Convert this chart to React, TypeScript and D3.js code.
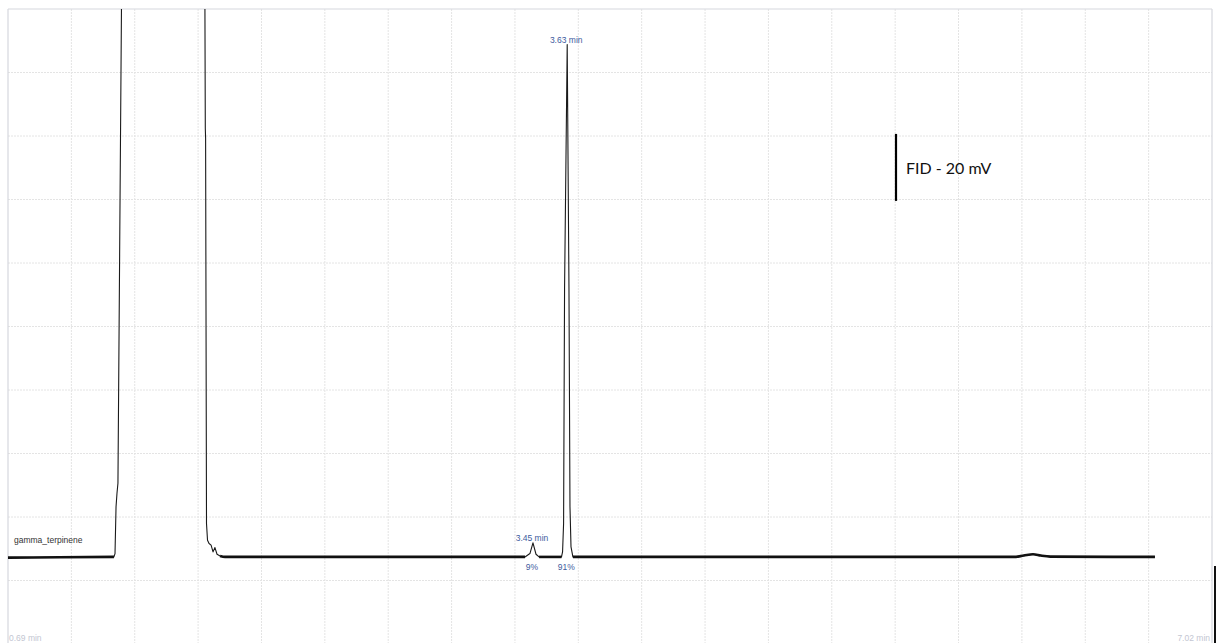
import React from "react";
import * as d3 from "d3";

// Chromatogram trace: retention time (min) and detector signal (mV above baseline)
const traceTime = [
  0.69, 0.96, 1.247, 1.2526, 1.258, 1.263, 1.268, 1.2867, 1.3, 1.5, 1.715, 1.7247,
  1.7273, 1.7289, 1.7336, 1.739, 1.747, 1.7577, 1.768, 1.778, 1.789, 1.805, 1.831,
  2.5, 3.408, 3.434, 3.45, 3.466, 3.482, 3.6, 3.6056, 3.611, 3.6161, 3.63, 3.6393,
  3.6446, 3.65, 3.66, 4.5, 5.5, 5.98, 6.03, 6.079, 6.12, 6.17, 6.5, 6.72,
];
const traceSignal = [
  -0.2, -0.1, 0, 1, 15, 19, 22, 165, 400, 900, 400, 175,
  128, 125, 10, 5, 4, 3.5, 1.5, 2.8, 0.8, 0.3, 0,
  0, 0, 1, 4.2, 0.8, 0, 0, 1.5, 10, 80, 153, 80,
  15, 3, 0, 0, 0, 0, 0.4, 0.8, 0.4, 0.1, 0, 0,
];

// Time spans where the trace is flat baseline (drawn with the noise thickness)
const baselineSpans: [number, number][] = [
  [0.69, 1.247],
  [1.805, 3.408],
  [3.482, 3.6],
  [3.66, 6.72],
];

// Integrated peaks
const peakTimes = [3.45, 3.63];
const peakLabels = ["3.45 min", "3.63 min"];
const peakAreas = ["9%", "91%"];

// Axis extent labels and grid divisions
const timeRange = [0.69, 7.02];
const timeLabels = ["0.69 min", "7.02 min"];
const gridColumns = 19;
const gridRows = 10;

// Detector scale bar
const scaleBarMv = 20;
const scaleBarTopMv = 126.3;
const scaleBarLabel = "FID - 20 mV";
const sampleName = "gamma_terpinene";

export default function App() {
  const left = 8;
  const right = 1212;
  const top = 9;
  const bottom = 644;

  const x = d3.scaleLinear().domain(timeRange).range([left, right]);
  const y = d3.scaleLinear().domain([-26, 163.6]).range([bottom, top]);
  const gx = d3.scaleLinear().domain([0, gridColumns]).range([left, right]);
  const gy = d3.scaleLinear().domain([0, gridRows]).range([top, bottom]);

  const points = traceTime.map((t, i) => [t, traceSignal[i]] as [number, number]);
  const line = d3
    .line<[number, number]>()
    .x((d) => x(d[0]))
    .y((d) => y(d[1]));
  const smooth = d3
    .line<[number, number]>()
    .x((d) => x(d[0]))
    .y((d) => y(d[1]))
    .curve(d3.curveMonotoneX);

  const blue = "#3d5b9e";
  const labelFont = "'Liberation Sans', Arial, sans-serif";

  return (
    <svg
      width={1223}
      height={643}
      style={{ position: "absolute", left: 0, top: 0, background: "#fff" }}
    >
      <defs>
        <clipPath id="plotClip">
          <rect x={left} y={top} width={right - left} height={bottom - top} />
        </clipPath>
      </defs>

      {/* dotted grid */}
      <g stroke="#e4e4e4" strokeWidth={1} strokeDasharray="2,1">
        {d3.range(1, gridColumns).map((k) => (
          <line key={"v" + k} x1={gx(k)} x2={gx(k)} y1={top} y2={bottom} />
        ))}
        {d3.range(1, gridRows).map((k) => (
          <line key={"h" + k} x1={left} x2={right} y1={gy(k)} y2={gy(k)} />
        ))}
      </g>

      {/* plot frame */}
      <g stroke="#d6d7de" strokeWidth={1.2} fill="none">
        <line x1={left} x2={right} y1={top} y2={top} />
        <line x1={left} x2={left} y1={top} y2={bottom} />
        <line x1={right} x2={right} y1={top} y2={bottom} />
      </g>

      {/* trace */}
      <g clipPath="url(#plotClip)" fill="none" strokeLinejoin="round">
        <path d={line(points) ?? ""} stroke="#1a1a1a" strokeWidth={1.1} />
        {baselineSpans.map(([a, b], i) => (
          <path
            key={i}
            d={smooth(points.filter((p) => p[0] >= a && p[0] <= b)) ?? ""}
            stroke="#111"
            strokeWidth={2.6}
          />
        ))}
      </g>

      {/* peak annotations */}
      {peakTimes.map((t, i) => {
        const apex = traceSignal[traceTime.indexOf(t)];
        return (
          <g key={t} fontFamily={labelFont} fontSize={8.5} fill={blue} textAnchor="middle">
            <text x={x(t) - 1} y={y(apex) - 2}>
              {peakLabels[i]}
            </text>
            <text x={x(t) - 1} y={570}>
              {peakAreas[i]}
            </text>
          </g>
        );
      })}

      {/* sample name */}
      <text x={14} y={543} fontFamily={labelFont} fontSize={8.5} fill="#333">
        {sampleName}
      </text>

      {/* time extent labels */}
      <text x={left + 1} y={641} fontFamily={labelFont} fontSize={8.5} fill="#c3c6d2">
        {timeLabels[0]}
      </text>
      <text
        x={right - 2}
        y={641}
        fontFamily={labelFont}
        fontSize={8.5}
        fill="#c3c6d2"
        textAnchor="end"
      >
        {timeLabels[1]}
      </text>

      {/* detector scale bar */}
      <line
        x1={896}
        x2={896}
        y1={y(scaleBarTopMv)}
        y2={y(scaleBarTopMv - scaleBarMv)}
        stroke="#000"
        strokeWidth={2.2}
      />
      <text x={906} y={174} fontFamily="Lato, 'Open Sans', sans-serif" fontSize={16} fill="#111">
        {scaleBarLabel}
      </text>

      {/* edge marker at the lower right */}
      <line x1={1215} x2={1215} y1={566} y2={643} stroke="#111" strokeWidth={2} />
    </svg>
  );
}
